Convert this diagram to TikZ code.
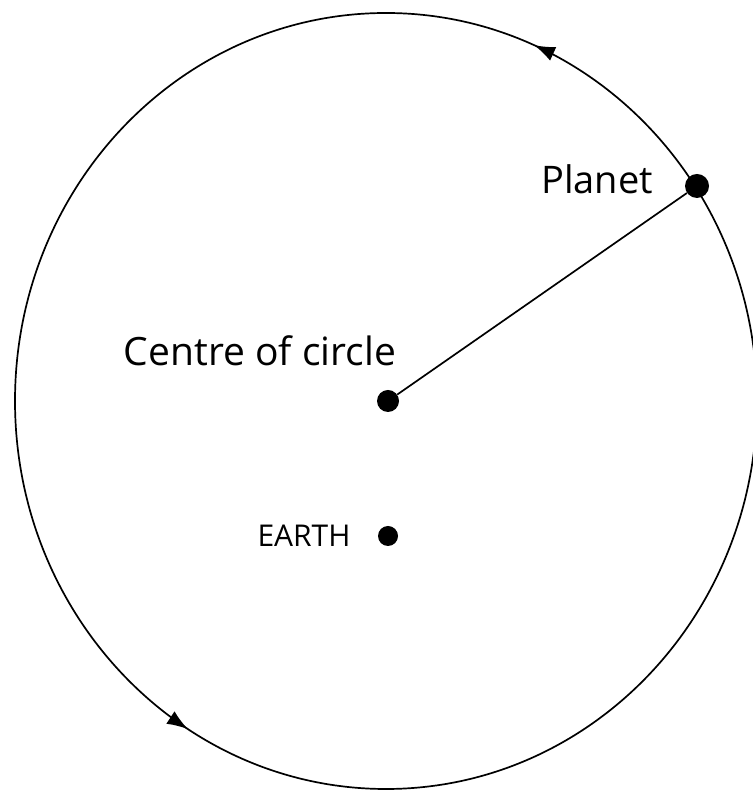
\documentclass[tikz,border=0pt]{standalone}
\usepackage{fontspec}
\setmainfont{Open Sans}
\usetikzlibrary{arrows.meta,decorations.markings}
\tikzset{
  dot/.style={circle,fill=black,inner sep=0pt,minimum size=#1},
  lbl/.style={inner sep=0pt,font=\fontsize{#1}{#1}\selectfont},
  tip/.style={Latex[length=21pt,width=15pt]},
  orbit/.style={line width=1.7pt,postaction={decorate},
    decoration={markings,
      mark=at position 0.186 with {\arrow{Latex[length=21pt,width=15pt]}},
      mark=at position 0.662 with {\arrow{Latex[length=21pt,width=15pt]}}}}
}
\begin{document}
\begin{tikzpicture}[x=1pt,y=1pt]
\useasboundingbox (0,0) rectangle (752,791);
\draw[orbit] (386,390) ellipse [x radius=371, y radius=388];
\node[dot=22pt] (centre) at (388,390) {};
\node[dot=24pt] (planet) at (697,605) {};
\node[dot=20pt] (earth) at (388,255) {};
\draw[line width=1.7pt] (centre) -- (planet);
\node[lbl=38pt] (planetlbl) at (597,612) {Planet};
\node[lbl=39pt] (centrelbl) at (260,440) {Centre of circle};
\node[lbl=30pt] (earthlbl) at (304,255) {EARTH};
\end{tikzpicture}
\end{document}
